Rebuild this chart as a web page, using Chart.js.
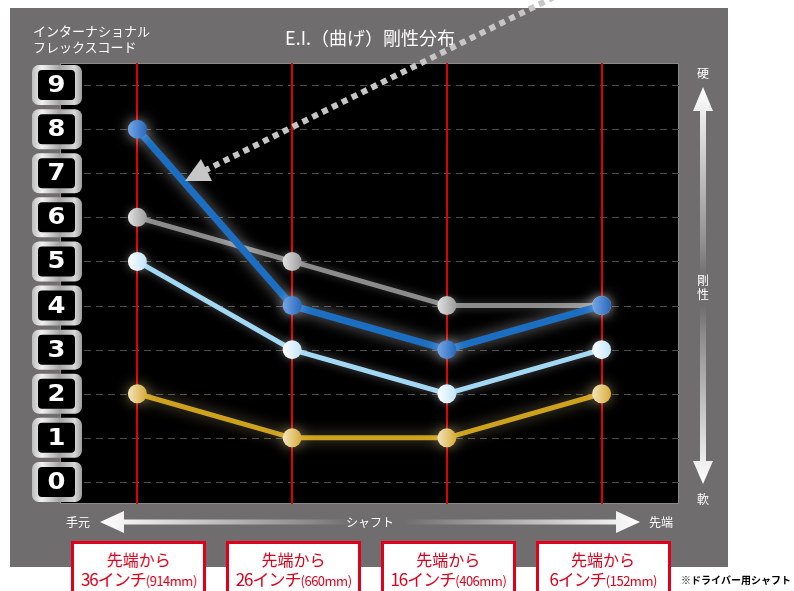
<!DOCTYPE html>
<html>
<head>
<meta charset="utf-8">
<script src="https://cdn.jsdelivr.net/npm/chart.js@4.4.1/dist/chart.umd.min.js"></script>
<style>
  html, body { margin: 0; padding: 0; background: #fff; }
  #wrap { position: relative; width: 794px; height: 591px; overflow: hidden;
          font-family: "Noto Sans CJK JP", "Noto Sans", sans-serif; }
  #chart { position: absolute; left: 0; top: 0; }
  .t { position: absolute; color: #fff; white-space: nowrap; line-height: 1; transform: translate(-50%, -50%); }
  .box { position: absolute; top: 541px; width: 129px; height: 60px; border: 3px solid #e0001b;
         background: #fff; color: #e0001b; text-align: center; line-height: 1; }
  .box .l1 { font-size: 16px; margin-top: 7px; }
  .box .l2 { font-size: 17px; margin-top: 3px; letter-spacing: -1px; }
  .box .mm { font-size: 13px; letter-spacing: -0.5px; }
</style>
</head>
<body>
<div id="wrap">
  <canvas id="chart" width="794" height="591"></canvas>
  <div class="t" style="left:33px;top:24px;font-size:13px;transform:none">インターナショナル</div>
  <div class="t" style="left:33px;top:40px;font-size:13px;transform:none">フレックスコード</div>
  <div class="t" style="left:370px;top:37px;font-size:18px">E.I.（曲げ）剛性分布</div>
  <div class="t" style="left:703px;top:73px;font-size:12px">硬</div>
  <div class="t" style="left:703px;top:280px;font-size:12px">剛</div>
  <div class="t" style="left:703px;top:294px;font-size:12px">性</div>
  <div class="t" style="left:703px;top:499px;font-size:12px">軟</div>
  <div class="t" style="left:78px;top:522px;font-size:12px">手元</div>
  <div class="t" style="left:370px;top:522px;font-size:12px">シャフト</div>
  <div class="t" style="left:661px;top:522px;font-size:12px">先端</div>
  <div class="t" style="left:736px;top:580px;font-size:10px;color:#000;font-weight:bold">※ドライバー用シャフト</div>
</div>
<script>
const categories = ['36インチ', '26インチ', '16インチ', '6インチ'];
const categoryMm = ['(914mm)', '(660mm)', '(406mm)', '(152mm)'];
const flexTicks = [0, 1, 2, 3, 4, 5, 6, 7, 8, 9];
const blueValues = [8, 4, 3, 4];
const grayValues = [6, 5, 4, 4];
const lightBlueValues = [5, 3, 2, 3];
const goldValues = [2, 1, 1, 2];

// horizontal gradient on each point, light on the left
function pointFill(light, dark) {
  return (c) => {
    if (c.type !== 'data') return dark;
    const x = c.chart.scales.x.getPixelForValue(c.dataIndex);
    if (!isFinite(x)) return dark;
    const g = c.chart.ctx.createLinearGradient(x - 10, 0, x + 10, 0);
    g.addColorStop(0, light);
    g.addColorStop(1, dark);
    return g;
  };
}

function roundRect(ctx, x, y, w, h, r) {
  ctx.beginPath();
  ctx.moveTo(x + r, y);
  ctx.arcTo(x + w, y, x + w, y + h, r);
  ctx.arcTo(x + w, y + h, x, y + h, r);
  ctx.arcTo(x, y + h, x, y, r);
  ctx.arcTo(x, y, x + w, y, r);
  ctx.closePath();
}

const glow = {
  0: { color: 'rgba(255,255,255,0.5)', blur: 14 },
  1: { color: 'rgba(255,255,255,0.25)', blur: 8 },
  2: { color: 'rgba(255,255,255,0.35)', blur: 10 },
  3: { color: 'rgba(255,230,160,0.45)', blur: 14 }
};

const backdrop = {
  id: 'backdrop',
  beforeDraw(chart) {
    const { ctx, chartArea: a, scales: { x, y } } = chart;
    ctx.save();
    ctx.fillStyle = '#fff';
    ctx.fillRect(0, 0, chart.width, chart.height);
    ctx.fillStyle = '#6f6d6d';
    ctx.fillRect(10, 8, 718, 559);
    ctx.fillStyle = '#000';
    ctx.fillRect(a.left, a.top, a.right - a.left, a.bottom - a.top);
    ctx.strokeStyle = '#8a8a8a';
    ctx.lineWidth = 1;
    ctx.strokeRect(a.left + 0.5, a.top + 0.5, a.right - a.left - 1, a.bottom - a.top - 1);

    ctx.strokeStyle = '#4c4c4c';
    ctx.setLineDash([7, 5]);
    flexTicks.forEach(v => {
      const py = Math.round(y.getPixelForValue(v)) + 0.5;
      ctx.beginPath();
      ctx.moveTo(a.left, py);
      ctx.lineTo(a.right, py);
      ctx.stroke();
    });
    ctx.setLineDash([]);
    ctx.strokeStyle = '#e00000';
    ctx.lineWidth = 2;
    categories.forEach((c, i) => {
      const px = Math.round(x.getPixelForValue(i));
      ctx.beginPath();
      ctx.moveTo(px, a.top);
      ctx.lineTo(px, a.bottom);
      ctx.stroke();
    });
    ctx.restore();
  },
  beforeDatasetDraw(chart, args) {
    const g = glow[args.index];
    chart.ctx.save();
    chart.ctx.shadowColor = g.color;
    chart.ctx.shadowBlur = g.blur;
  },
  afterDatasetDraw(chart) {
    chart.ctx.restore();
  },
  afterDraw(chart) {
    const { ctx, scales: { y } } = chart;
    ctx.save();
    // flex code badges
    flexTicks.forEach(v => {
      const cy = y.getPixelForValue(v);
      const g = ctx.createLinearGradient(32, 0, 82, 0);
      g.addColorStop(0, '#bdbdbd');
      g.addColorStop(0.2, '#f2f2f2');
      g.addColorStop(0.55, '#a4a4a4');
      g.addColorStop(0.85, '#d8d8d8');
      g.addColorStop(1, '#9c9c9c');
      ctx.fillStyle = g;
      roundRect(ctx, 32, cy - 20, 50, 40, 7);
      ctx.fill();
      ctx.fillStyle = '#000';
      roundRect(ctx, 38, cy - 15, 37, 30, 4);
      ctx.fill();
      ctx.fillStyle = '#fff';
      ctx.font = 'bold 23px "DejaVu Sans"';
      ctx.textAlign = 'center';
      ctx.textBaseline = 'middle';
      ctx.save();
      ctx.translate(56.5, cy + 1);
      ctx.scale(1.12, 1);
      ctx.fillText(String(v), 0, 0);
      ctx.restore();
    });

    // horizontal shaft arrow
    const hg = ctx.createLinearGradient(100, 0, 640, 0);
    hg.addColorStop(0, '#fff');
    hg.addColorStop(0.38, '#8f8d8d');
    hg.addColorStop(0.47, '#6f6d6d');
    hg.addColorStop(0.56, '#6f6d6d');
    hg.addColorStop(0.66, '#8f8d8d');
    hg.addColorStop(1, '#fff');
    ctx.fillStyle = hg;
    ctx.fillRect(120, 519.5, 500, 5);
    ctx.beginPath();
    ctx.moveTo(100, 522); ctx.lineTo(124, 511); ctx.lineTo(124, 533); ctx.closePath(); ctx.fill();
    ctx.beginPath();
    ctx.moveTo(640, 522); ctx.lineTo(616, 511); ctx.lineTo(616, 533); ctx.closePath(); ctx.fill();

    // vertical stiffness arrow
    const vg = ctx.createLinearGradient(0, 87, 0, 484);
    vg.addColorStop(0, '#fff');
    vg.addColorStop(0.4, '#8f8d8d');
    vg.addColorStop(0.48, '#6f6d6d');
    vg.addColorStop(0.55, '#6f6d6d');
    vg.addColorStop(0.63, '#8f8d8d');
    vg.addColorStop(1, '#fff');
    ctx.fillStyle = vg;
    ctx.fillRect(700, 108, 6, 356);
    ctx.beginPath();
    ctx.moveTo(703, 87); ctx.lineTo(693, 111); ctx.lineTo(713, 111); ctx.closePath(); ctx.fill();
    ctx.beginPath();
    ctx.moveTo(703, 484); ctx.lineTo(693, 461); ctx.lineTo(713, 461); ctx.closePath(); ctx.fill();

    // dotted pointer arrow
    ctx.strokeStyle = '#c6c6c6';
    ctx.fillStyle = '#c6c6c6';
    ctx.lineWidth = 6;
    ctx.setLineDash([6, 5]);
    ctx.beginPath();
    ctx.moveTo(564, -8);
    ctx.lineTo(206, 170);
    ctx.stroke();
    ctx.setLineDash([]);
    ctx.beginPath();
    ctx.moveTo(185, 181);
    ctx.lineTo(201, 159);
    ctx.lineTo(212, 181);
    ctx.closePath();
    ctx.fill();
    ctx.restore();
  }
};

const chart = new Chart(document.getElementById('chart'), {
  type: 'line',
  data: {
    labels: categories,
    datasets: [
      { data: blueValues, borderColor: '#1b6ec2', borderWidth: 7,
        pointBackgroundColor: pointFill('#7aa8e6', '#2466bb') },
      { data: grayValues, borderColor: '#8c8c8c', borderWidth: 5,
        pointBackgroundColor: pointFill('#e4e4e4', '#9a9a9a') },
      { data: lightBlueValues, borderColor: '#a2d8f4', borderWidth: 5,
        pointBackgroundColor: pointFill('#ffffff', '#bfe4f8') },
      { data: goldValues, borderColor: '#cfa21e', borderWidth: 5,
        pointBackgroundColor: pointFill('#f4e6c0', '#d6aa36') }
    ].map(ds => ({ ...ds, pointRadius: 9.5, pointBorderWidth: 0, tension: 0, fill: false }))
  },
  options: {
    responsive: false,
    animation: false,
    events: [],
    layout: { padding: { left: 60, top: 63, right: 115, bottom: 87 } },
    plugins: { legend: { display: false }, tooltip: { enabled: false } },
    scales: {
      x: { type: 'category', offset: true, display: false },
      y: { min: -0.5, max: 9.5, display: false }
    }
  },
  plugins: [backdrop]
});

// position boxes under each category
const wrap = document.getElementById('wrap');
categories.forEach((c, i) => {
  const box = document.createElement('div');
  box.className = 'box';
  box.style.left = (chart.scales.x.getPixelForValue(i) - 66) + 'px';
  box.innerHTML = '<div class="l1">先端から</div><div class="l2">' + c + '<span class="mm">' + categoryMm[i] + '</span></div>';
  wrap.appendChild(box);
});
</script>
</body>
</html>
